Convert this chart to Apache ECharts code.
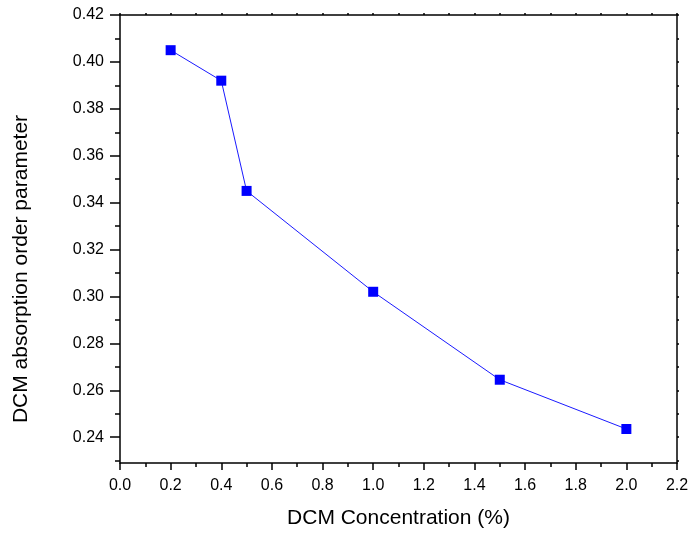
<!DOCTYPE html>
<html>
<head>
<meta charset="utf-8">
<script src="https://cdn.jsdelivr.net/npm/echarts@6/dist/echarts.min.js"></script>
<style>
  html, body { margin: 0; padding: 0; background: #fff; }
  #chart { width: 692px; height: 534px; }
</style>
</head>
<body>
<div id="chart"></div>
<script>
// DCM concentration (%) vs. absorption order parameter
var concentration = [0.2, 0.4, 0.5, 1.0, 1.5, 2.0];
var orderParameter = [0.405, 0.392, 0.345, 0.302, 0.2645, 0.2435];

// y-axis tick positions
var yMajorTicks = [0.24, 0.26, 0.28, 0.30, 0.32, 0.34, 0.36, 0.38, 0.40, 0.42];
var yMinorTicks = [0.23, 0.25, 0.27, 0.29, 0.31, 0.33, 0.35, 0.37, 0.39, 0.41];

var xTitle = 'DCM Concentration (%)';
var yTitle = 'DCM absorption order parameter';

var FONT = 'Liberation Sans, Arial, sans-serif';
var chart = echarts.init(document.getElementById('chart'));

var points = concentration.map(function (c, i) { return [c, orderParameter[i]]; });
var axisColor = { color: '#000', width: 1.5 };

chart.setOption({
  animation: false,
  backgroundColor: '#fff',
  grid: { left: 120, right: 15, top: 15, bottom: 70, containLabel: false },
  graphic: [
    {
      type: 'text', x: 21, y: 269, rotation: Math.PI / 2,
      style: { text: yTitle, font: '21px ' + FONT, fill: '#000',
        align: 'center', verticalAlign: 'middle' }
    }
  ],
  xAxis: [
    {
      type: 'value', position: 'bottom', min: 0, max: 2.2, interval: 0.2,
      name: xTitle, nameLocation: 'middle', nameGap: 45,
      nameTextStyle: { fontFamily: FONT, fontSize: 21, color: '#000' },
      axisLine: { show: true, onZero: false, lineStyle: axisColor },
      axisTick: { show: true, inside: false, length: 7, lineStyle: axisColor },
      minorTick: { show: true, splitNumber: 2, length: 4, lineStyle: axisColor },
      axisLabel: { fontFamily: FONT, fontSize: 16, color: '#000', margin: 15,
        formatter: function (v) { return v.toFixed(1); } },
      splitLine: { show: false }
    },
    {
      type: 'value', position: 'top', min: 0, max: 2.2, interval: 0.1,
      axisLine: { show: true, onZero: false, lineStyle: axisColor },
      axisTick: { show: true, inside: false, length: 2, lineStyle: axisColor },
      axisLabel: { show: false },
      splitLine: { show: false }
    }
  ],
  yAxis: [
    {
      type: 'value', position: 'left', min: 0.229, max: 0.42,
      axisLine: { show: true, onZero: false, lineStyle: axisColor },
      axisTick: { show: true, inside: false, length: 10, customValues: yMajorTicks,
        lineStyle: axisColor },
      axisLabel: { fontFamily: FONT, fontSize: 16, color: '#000', margin: 16,
        customValues: yMajorTicks,
        formatter: function (v) { return v.toFixed(2); } },
      splitLine: { show: false }
    },
    {
      type: 'value', position: 'left', min: 0.229, max: 0.42,
      axisLine: { show: false },
      axisTick: { show: true, inside: false, length: 5, customValues: yMinorTicks,
        lineStyle: axisColor },
      axisLabel: { show: false },
      splitLine: { show: false }
    },
    {
      type: 'value', position: 'right', min: 0.229, max: 0.42,
      axisLine: { show: true, onZero: false, lineStyle: axisColor },
      axisTick: { show: true, inside: false, length: 2,
        customValues: yMinorTicks.concat(yMajorTicks),
        lineStyle: axisColor },
      axisLabel: { show: false },
      splitLine: { show: false }
    }
  ],
  series: [
    {
      type: 'line',
      xAxisIndex: 0, yAxisIndex: 0,
      data: points,
      symbol: 'rect', symbolSize: 10,
      itemStyle: { color: '#0000ff' },
      lineStyle: { color: '#1a1aff', width: 1 }
    }
  ]
});
</script>
</body>
</html>
